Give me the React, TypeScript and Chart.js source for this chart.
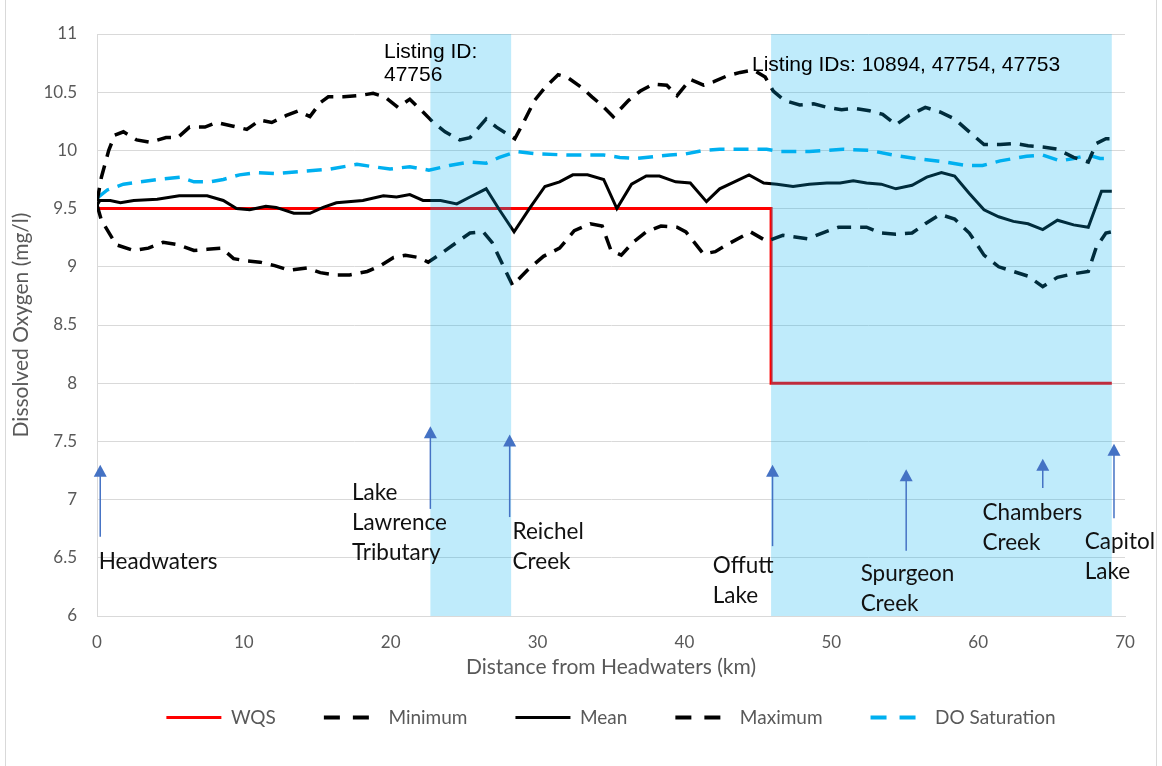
import { useEffect, useRef } from 'react';
import { Chart, registerables } from 'chart.js';

Chart.register(...registerables);

// ---- Data (distance km / dissolved oxygen mg/l) ----
const wqsKm = [0, 45.9, 45.9, 69.1];
const wqsDO = [9.5, 9.5, 8.0, 8.0];

const minKm = [0, 0.3, 1.3, 2.5, 3.5, 4.5, 5.5, 6.6, 7.5, 8.5, 9.3, 10.2, 11.1, 12.1, 13.1, 14.3, 15.2, 16.2, 17.2, 18.4, 19.3, 20.2, 21.0, 21.9, 22.55, 23.5, 24.6, 25.4, 26.3, 26.9, 28.3, 29.3, 30.4, 31.5, 32.5, 33.6, 34.4, 35.0, 35.7, 36.5, 37.4, 38.4, 39.5, 40.1, 41.3, 42.1, 42.9, 44.5, 45.6, 46.7, 48.4, 49.6, 50.5, 51.5, 52.4, 53.4, 54.4, 55.5, 56.4, 57.4, 58.4, 59.4, 60.4, 61.4, 62.4, 63.4, 64.4, 65.4, 66.5, 67.5, 68.05, 68.7, 69.1];
const minDO = [9.53, 9.40, 9.19, 9.14, 9.16, 9.21, 9.19, 9.14, 9.15, 9.16, 9.07, 9.05, 9.04, 9.01, 8.97, 8.99, 8.95, 8.93, 8.93, 8.96, 9.01, 9.08, 9.10, 9.08, 9.04, 9.12, 9.22, 9.29, 9.30, 9.21, 8.84, 8.97, 9.09, 9.16, 9.31, 9.37, 9.35, 9.14, 9.10, 9.21, 9.30, 9.35, 9.34, 9.30, 9.11, 9.13, 9.19, 9.30, 9.22, 9.27, 9.24, 9.30, 9.34, 9.34, 9.34, 9.29, 9.28, 9.29, 9.37, 9.45, 9.41, 9.29, 9.10, 9.00, 8.96, 8.92, 8.83, 8.91, 8.94, 8.96, 9.17, 9.29, 9.30];

const meanKm = [0, 0.2, 0.9, 1.6, 2.5, 4.1, 5.6, 7.5, 8.6, 9.5, 10.4, 11.5, 12.2, 13.4, 14.5, 15.4, 16.3, 18.1, 19.5, 20.4, 21.3, 22.2, 23.4, 24.5, 25.4, 26.5, 27.4, 28.4, 29.5, 30.5, 31.5, 32.4, 33.4, 34.5, 35.4, 36.4, 37.4, 38.3, 39.4, 40.4, 41.5, 42.4, 43.4, 44.4, 45.4, 46.3, 47.4, 48.5, 49.7, 50.6, 51.5, 52.4, 53.4, 54.4, 55.5, 56.5, 57.5, 58.4, 59.4, 60.4, 61.4, 62.4, 63.4, 64.4, 65.4, 66.5, 67.5, 68.4, 69.1];
const meanDO = [9.53, 9.57, 9.57, 9.55, 9.57, 9.58, 9.61, 9.61, 9.57, 9.50, 9.49, 9.52, 9.51, 9.46, 9.46, 9.51, 9.55, 9.57, 9.61, 9.60, 9.62, 9.57, 9.57, 9.54, 9.60, 9.67, 9.49, 9.30, 9.51, 9.69, 9.73, 9.79, 9.79, 9.75, 9.50, 9.71, 9.78, 9.78, 9.73, 9.72, 9.56, 9.67, 9.73, 9.79, 9.72, 9.71, 9.69, 9.71, 9.72, 9.72, 9.74, 9.72, 9.71, 9.67, 9.70, 9.77, 9.81, 9.78, 9.63, 9.49, 9.43, 9.39, 9.37, 9.32, 9.40, 9.36, 9.34, 9.65, 9.65];

const maxKm = [0, 0.3, 0.8, 1.2, 1.8, 2.7, 3.6, 4.7, 5.5, 6.3, 7.35, 8.15, 9.2, 10.2, 11.1, 11.9, 12.9, 13.7, 14.5, 15.2, 15.75, 16.8, 17.8, 18.8, 19.6, 20.5, 21.3, 22.2, 22.9, 23.7, 24.7, 25.4, 26.5, 27.2, 28.45, 29.0, 29.8, 30.5, 31.4, 32.0, 33.0, 33.7, 34.35, 35.15, 36.2, 37.0, 37.9, 38.8, 39.5, 40.4, 41.3, 42.0, 42.9, 43.8, 44.7, 45.5, 46.05, 46.8, 47.85, 48.8, 49.7, 50.7, 51.6, 52.6, 53.5, 54.4, 55.3, 56.4, 57.4, 58.4, 59.3, 60.4, 61.5, 62.5, 63.4, 64.4, 65.4, 66.5, 67.5, 68.05, 68.7, 69.1];
const maxDO = [9.56, 9.77, 10.0, 10.13, 10.16, 10.09, 10.07, 10.11, 10.11, 10.20, 10.20, 10.24, 10.21, 10.18, 10.26, 10.24, 10.30, 10.34, 10.29, 10.41, 10.46, 10.46, 10.47, 10.49, 10.46, 10.37, 10.44, 10.33, 10.24, 10.16, 10.09, 10.11, 10.27, 10.20, 10.10, 10.23, 10.43, 10.54, 10.65, 10.63, 10.54, 10.46, 10.39, 10.29, 10.43, 10.51, 10.57, 10.56, 10.47, 10.61, 10.56, 10.59, 10.64, 10.67, 10.69, 10.63, 10.51, 10.43, 10.39, 10.40, 10.37, 10.35, 10.36, 10.34, 10.31, 10.22, 10.30, 10.37, 10.33, 10.27, 10.17, 10.05, 10.05, 10.06, 10.04, 10.03, 10.01, 9.94, 9.90, 10.06, 10.10, 10.10];

const satKm = [0, 0.7, 1.8, 2.9, 4.1, 5.65, 6.6, 7.7, 8.6, 9.7, 10.9, 12.2, 14.0, 15.9, 17.7, 18.8, 19.95, 21.3, 22.6, 24.0, 25.4, 26.5, 27.4, 28.6, 29.9, 32.2, 34.5, 35.6, 36.7, 39.0, 40.1, 41.3, 42.4, 44.7, 45.6, 46.5, 48.5, 50.8, 52.6, 54.2, 55.8, 57.8, 59.2, 60.3, 61.5, 63.3, 64.4, 65.6, 66.5, 67.5, 68.3, 69.1];
const satDO = [9.59, 9.66, 9.71, 9.73, 9.75, 9.77, 9.73, 9.73, 9.75, 9.79, 9.81, 9.80, 9.82, 9.84, 9.88, 9.86, 9.84, 9.86, 9.83, 9.87, 9.90, 9.89, 9.94, 9.99, 9.97, 9.96, 9.96, 9.94, 9.93, 9.96, 9.97, 10.0, 10.01, 10.01, 10.01, 9.99, 9.99, 10.01, 10.0, 9.96, 9.93, 9.90, 9.87, 9.87, 9.91, 9.95, 9.96, 9.91, 9.93, 9.96, 9.93, 9.93];

// Listed segments (km ranges)
const zoneStartKm = [22.7, 45.9];
const zoneEndKm = [28.2, 69.1];

// Tick settings
const xTickMin = 0, xTickMax = 70, xTickStep = 10;
const yTickMin = 6, yTickMax = 11, yTickStep = 0.5;

// Site arrows and labels
const siteNames = [['Headwaters'], ['Lake', 'Lawrence', 'Tributary'], ['Reichel', 'Creek'], ['Offutt', 'Lake'], ['Spurgeon', 'Creek'], ['Chambers', 'Creek'], ['Capitol', 'Lake']];
const arrowKm = [0.22, 22.7, 28.1, 46.0, 55.1, 64.4, 69.25];
const arrowTailDO = [6.68, 6.92, 6.85, 6.60, 6.56, 7.10, 6.84];
const arrowTipDO = [7.30, 7.63, 7.56, 7.30, 7.26, 7.35, 7.48];
const siteLabelKm = [0.12, 17.36, 28.3, 41.93, 52.0, 60.3, 67.26];
const siteLabelDO = [6.47, 7.06, 6.72, 6.43, 6.36, 6.89, 6.64];

const listingLines = [['Listing ID:', '47756'], ['Listing IDs: 10894, 47754, 47753']];
const listingKm = [19.54, 44.6];
const listingDO = [10.794, 10.686];

const zip = (xs: number[], ys: number[]) => xs.map((x, i) => ({ x, y: ys[i] }));

const GRID = '#D9D9D9';
const TEXT = '#595959';
const FONT = 'Lato, "Open Sans", sans-serif';

const overlayPlugin = {
  id: 'overlay',
  afterDatasetsDraw(chart: any) {
    const { ctx, chartArea, scales } = chart;
    const x = scales.x;
    ctx.save();
    ctx.fillStyle = 'rgba(0,176,240,0.25)';
    zoneStartKm.forEach((a, i) => {
      const x0 = x.getPixelForValue(a);
      const x1 = x.getPixelForValue(zoneEndKm[i]);
      ctx.fillRect(x0, chartArea.top, x1 - x0, chartArea.bottom - chartArea.top);
    });
    ctx.restore();
  },
  afterDraw(chart: any) {
    const { ctx, scales, width, height } = chart;
    const x = scales.x, y = scales.y;
    ctx.save();
    // arrows
    ctx.strokeStyle = '#4472C4';
    ctx.fillStyle = '#4472C4';
    ctx.lineWidth = 1.5;
    arrowKm.forEach((km, i) => {
      const px = x.getPixelForValue(km);
      const tail = y.getPixelForValue(arrowTailDO[i]);
      const tip = y.getPixelForValue(arrowTipDO[i]);
      ctx.beginPath();
      ctx.moveTo(px, tail);
      ctx.lineTo(px, tip + 10);
      ctx.stroke();
      ctx.beginPath();
      ctx.moveTo(px, tip);
      ctx.lineTo(px - 6.5, tip + 12);
      ctx.lineTo(px + 6.5, tip + 12);
      ctx.closePath();
      ctx.fill();
    });
    // site labels
    ctx.fillStyle = '#111';
    ctx.font = '22.5px ' + FONT;
    ctx.textAlign = 'left';
    ctx.textBaseline = 'middle';
    siteNames.forEach((lines, i) => {
      const px = x.getPixelForValue(siteLabelKm[i]);
      const py = y.getPixelForValue(siteLabelDO[i]);
      lines.forEach((t, j) => ctx.fillText(t, px, py + j * 30));
    });
    // listing notes
    ctx.fillStyle = '#000';
    ctx.font = '21px "Liberation Sans", Arial, sans-serif';
    ctx.textBaseline = 'alphabetic';
    listingLines.forEach((lines, i) => {
      const px = x.getPixelForValue(listingKm[i]);
      const py = y.getPixelForValue(listingDO[i]);
      lines.forEach((t, j) => ctx.fillText(t, px, py + j * 23.4));
    });
    // outer border
    ctx.strokeStyle = GRID;
    ctx.lineWidth = 1;
    ctx.strokeRect(5.5, -2, width - 6.5 - 5.5 + 1, height + 4);
    ctx.restore();
  },
};

export default function App() {
  const ref = useRef<HTMLCanvasElement>(null);
  useEffect(() => {
    document.body.style.margin = '0';
    if (!ref.current) return;
    const dashed = [14, 9];
    const chart = new Chart(ref.current, {
      type: 'line',
      data: {
        datasets: [
          { label: 'WQS', data: zip(wqsKm, wqsDO), borderColor: '#FF0000', borderWidth: 3, order: 5 },
          { label: 'Minimum', data: zip(minKm, minDO), borderColor: '#000000', borderWidth: 3.5, borderDash: dashed, order: 1 },
          { label: 'Mean', data: zip(meanKm, meanDO), borderColor: '#000000', borderWidth: 3, order: 0 },
          { label: 'Maximum', data: zip(maxKm, maxDO), borderColor: '#000000', borderWidth: 3.5, borderDash: dashed, order: 2 },
          { label: 'DO Saturation', data: zip(satKm, satDO), borderColor: '#00B0F0', borderWidth: 3.5, borderDash: [15, 9], order: 3 },
        ] as any,
      },
      options: {
        animation: false,
        responsive: false,
        devicePixelRatio: 1,
        elements: { point: { radius: 0, hoverRadius: 0 }, line: { tension: 0, fill: false } },
        layout: { padding: { left: 6, right: 37, top: 34, bottom: 29 } },
        scales: {
          x: {
            type: 'linear',
            min: xTickMin,
            max: xTickMax,
            ticks: { stepSize: xTickStep, color: TEXT, font: { family: FONT, size: 17 }, padding: 16, maxRotation: 0 },
            grid: { display: false, drawTicks: false },
            border: { display: true, color: GRID, width: 1 },
            title: { display: true, text: 'Distance from Headwaters (km)', color: TEXT, font: { family: FONT, size: 21 }, padding: { top: 0, bottom: -20 } },
            afterFit: (s: any) => { s.height = 44; },
          },
          y: {
            type: 'linear',
            min: yTickMin,
            max: yTickMax,
            ticks: { stepSize: yTickStep, color: TEXT, font: { family: FONT, size: 17 }, padding: 20, callback: (v: any) => String(Number(v)) },
            grid: { color: GRID, lineWidth: 1, drawTicks: false },
            border: { display: true, color: GRID, width: 1 },
            title: { display: true, text: 'Dissolved Oxygen (mg/l)', color: TEXT, font: { family: FONT, size: 21 }, padding: { top: 3, bottom: 0 } },
            afterFit: (s: any) => { s.width = 91; },
          },
        },
        plugins: {
          legend: {
            position: 'bottom',
            fullSize: false,
            labels: {
              usePointStyle: true,
              pointStyle: 'line',
              pointStyleWidth: 55,
              boxHeight: 19,
              padding: 48,
              color: TEXT,
              font: { family: FONT, size: 19 },
              sort: (a: any, b: any) => a.datasetIndex - b.datasetIndex,
              generateLabels: (c: any) => {
                const items = Chart.defaults.plugins.legend.labels.generateLabels(c);
                items.forEach((it: any) => {
                  const ds = c.data.datasets[it.datasetIndex];
                  it.lineDash = ds.borderDash ? [16, 13] : [];
                  it.lineWidth = ds.borderDash ? 4 : 3;
                  it.pointStyle = 'line';
                });
                return items;
              },
            },
          },
          tooltip: { enabled: false },
        },
      },
      plugins: [overlayPlugin],
    } as any);
    return () => chart.destroy();
  }, []);
  return (
    <div style={{ width: 1162, height: 766 }}>
      <canvas ref={ref} width={1162} height={766} style={{ display: 'block' }} />
    </div>
  );
}
